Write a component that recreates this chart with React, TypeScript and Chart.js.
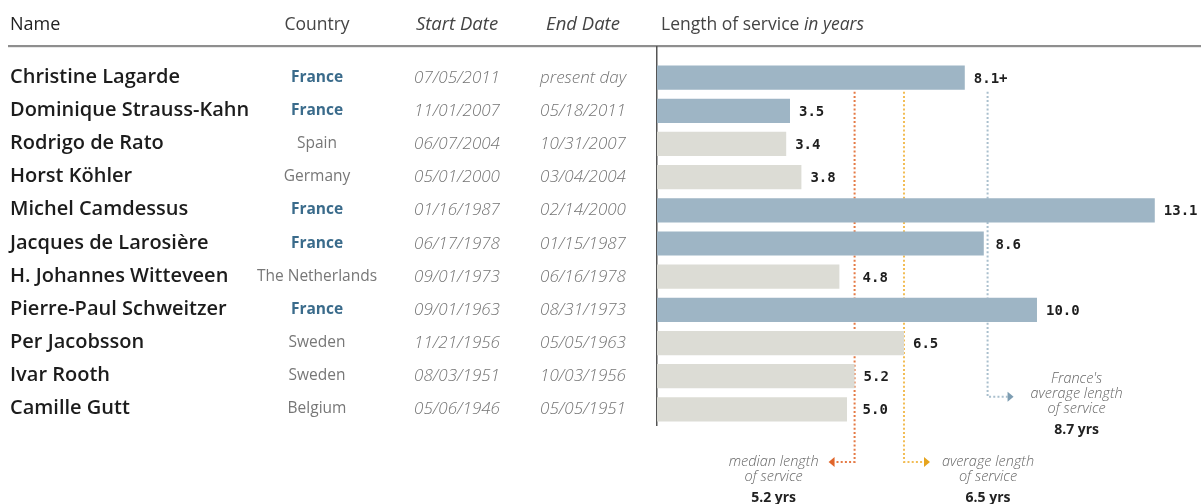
import React, { useEffect, useRef } from "react";
import { Chart, registerables } from "chart.js";

Chart.register(...registerables);

// ---------- data ----------
const names = [
  "Christine Lagarde",
  "Dominique Strauss-Kahn",
  "Rodrigo de Rato",
  "Horst Köhler",
  "Michel Camdessus",
  "Jacques de Larosière",
  "H. Johannes Witteveen",
  "Pierre-Paul Schweitzer",
  "Per Jacobsson",
  "Ivar Rooth",
  "Camille Gutt",
];
const countries = [
  "France",
  "France",
  "Spain",
  "Germany",
  "France",
  "France",
  "The Netherlands",
  "France",
  "Sweden",
  "Sweden",
  "Belgium",
];
const startDates = [
  "07/05/2011",
  "11/01/2007",
  "06/07/2004",
  "05/01/2000",
  "01/16/1987",
  "06/17/1978",
  "09/01/1973",
  "09/01/1963",
  "11/21/1956",
  "08/03/1951",
  "05/06/1946",
];
const endDates = [
  "present day",
  "05/18/2011",
  "10/31/2007",
  "03/04/2004",
  "02/14/2000",
  "01/15/1987",
  "06/16/1978",
  "08/31/1973",
  "05/05/1963",
  "10/03/1956",
  "05/05/1951",
];
const yearsOfService = [8.1, 3.5, 3.4, 3.8, 13.1, 8.6, 4.8, 10.0, 6.5, 5.2, 5.0];
const valueLabels = ["8.1+", "3.5", "3.4", "3.8", "13.1", "8.6", "4.8", "10.0", "6.5", "5.2", "5.0"];
const columnHeaders = ["Name", "Country", "Start Date", "End Date"];
const chartTitle = "Length of service";
const chartTitleItalic = "in years";
const medianYears = 5.2;
const averageYears = 6.5;
const franceAverageYears = 8.7;
const medianLabel = ["median length", "of service", "5.2 yrs"];
const averageLabel = ["average length", "of service", "6.5 yrs"];
const franceLabel = ["France's", "average length", "of service", "8.7 yrs"];
const axisMaxYears = 14.29;

// ---------- styles ----------
const FONT = '"Open Sans", "Noto Sans", sans-serif';
const BLUE_BAR = "#9eb5c5";
const GRAY_BAR = "#dcdcd5";
const COL_COUNTRY = 317;
const COL_START = 457;
const COL_END = 583;

const tablePlugin = {
  id: "tablePlugin",
  beforeDatasetsDraw(chart: any) {
    const ctx = chart.ctx as CanvasRenderingContext2D;
    const xs = chart.scales.x;
    const ys = chart.scales.y;
    const area = chart.chartArea;
    ctx.save();
    // header rule
    ctx.fillStyle = "#8e8e8e";
    ctx.fillRect(8, 45, chart.width - 8, 2.2);
    // vertical axis line
    ctx.strokeStyle = "#555";
    ctx.lineWidth = 1.5;
    ctx.beginPath();
    ctx.moveTo(area.left - 0.25, 46);
    ctx.lineTo(area.left - 0.25, area.bottom);
    ctx.stroke();

    const meta = chart.getDatasetMeta(0);
    const barHalf = meta.data[0].height / 2;
    const top = ys.getPixelForValue(0) + barHalf + 2;
    const bottomArrowY = area.bottom + 36;
    const franceArrowY = (ys.getPixelForValue(9) + ys.getPixelForValue(10)) / 2 + 4;

    const refs = [
      { v: medianYears, color: "#e57a45", head: "#e0652a", dir: -1, y: bottomArrowY },
      { v: averageYears, color: "#f2bd55", head: "#e6a41e", dir: 1, y: bottomArrowY },
      { v: franceAverageYears, color: "#a9bfcd", head: "#7d9db2", dir: 1, y: franceArrowY },
    ];
    refs.forEach((r) => {
      const xp = xs.getPixelForValue(r.v);
      ctx.strokeStyle = r.color;
      ctx.lineWidth = 2;
      ctx.setLineDash([2, 2.2]);
      ctx.beginPath();
      ctx.moveTo(xp, top);
      ctx.lineTo(xp, r.y);
      ctx.lineTo(xp + r.dir * 20, r.y);
      ctx.stroke();
      ctx.setLineDash([]);
      const tip = xp + r.dir * 26;
      ctx.fillStyle = r.head;
      ctx.beginPath();
      ctx.moveTo(tip, r.y);
      ctx.lineTo(tip - r.dir * 6, r.y - 5);
      ctx.lineTo(tip - r.dir * 6, r.y + 5);
      ctx.closePath();
      ctx.fill();
    });
    ctx.restore();
  },
  afterDatasetsDraw(chart: any) {
    const ctx = chart.ctx as CanvasRenderingContext2D;
    const xs = chart.scales.x;
    const ys = chart.scales.y;
    const area = chart.chartArea;
    ctx.save();
    ctx.textBaseline = "alphabetic";

    // headers
    const headY = 30;
    ctx.fillStyle = "#222";
    ctx.font = `18px ${FONT}`;
    ctx.textAlign = "left";
    ctx.fillText(columnHeaders[0], 10, headY);
    ctx.fillStyle = "#444";
    ctx.textAlign = "center";
    ctx.font = `17.5px ${FONT}`;
    ctx.fillText(columnHeaders[1], COL_COUNTRY, headY);
    ctx.font = `italic 18.5px ${FONT}`;
    ctx.fillText(columnHeaders[2], COL_START, headY);
    ctx.fillText(columnHeaders[3], COL_END, headY);
    ctx.textAlign = "left";
    ctx.font = `17.5px ${FONT}`;
    const tx = area.left + 4;
    const t1 = chartTitle + " ";
    ctx.fillText(t1, tx, headY);
    const w1 = ctx.measureText(t1).width;
    ctx.font = `italic 17.5px ${FONT}`;
    ctx.fillText(chartTitleItalic, tx + w1, headY);

    // rows
    const refXs = [medianYears, averageYears, franceAverageYears].map((v) => xs.getPixelForValue(v));
    names.forEach((name, i) => {
      const cy = ys.getPixelForValue(i);
      const by = cy + 4;
      ctx.textAlign = "left";
      ctx.fillStyle = "#1c1c1c";
      ctx.font = `600 20px ${FONT}`;
      ctx.fillText(name, 10, by + 1);

      ctx.textAlign = "center";
      if (countries[i] === "France") {
        ctx.fillStyle = "#3a6b8b";
        ctx.font = `bold 15.5px ${FONT}`;
      } else {
        ctx.fillStyle = "#777";
        ctx.font = `15.5px ${FONT}`;
      }
      ctx.fillText(countries[i], COL_COUNTRY, by);

      ctx.fillStyle = "#747474";
      ctx.font = `italic 300 17px ${FONT}`;
      ctx.fillText(startDates[i], COL_START, by + 1);
      ctx.fillText(endDates[i], COL_END, by + 1);

      // value label (pushed past a reference line that sits just after the bar)
      const end = xs.getPixelForValue(yearsOfService[i]);
      let lx = end + 9;
      refXs.forEach((rx) => {
        if (rx >= end - 2 && rx < end + 20) lx = Math.max(lx, rx + 8);
      });
      ctx.textAlign = "left";
      ctx.fillStyle = "#1e1e1e";
      ctx.font = `bold 14px "DejaVu Sans Mono", monospace`;
      ctx.fillText(valueLabels[i], lx, by + 1);
    });

    // annotations
    const drawNote = (lines: string[], cx: number, firstBase: number) => {
      ctx.textAlign = "center";
      lines.forEach((ln, k) => {
        const isVal = k === lines.length - 1;
        ctx.fillStyle = isVal ? "#222" : "#666";
        ctx.font = isVal ? `bold 14px ${FONT}` : `italic 300 14.5px ${FONT}`;
        const y = isVal ? firstBase + (k - 1) * 15 + 21 : firstBase + k * 15;
        ctx.fillText(ln, cx, y);
      });
    };
    const bottomArrowY = area.bottom + 36;
    const franceArrowY = (ys.getPixelForValue(9) + ys.getPixelForValue(10)) / 2 + 4;
    drawNote(medianLabel, xs.getPixelForValue(medianYears) - 81, bottomArrowY + 4);
    drawNote(averageLabel, xs.getPixelForValue(averageYears) + 84, bottomArrowY + 4);
    drawNote(franceLabel, xs.getPixelForValue(franceAverageYears) + 89, franceArrowY - 14);
    ctx.restore();
  },
};

export default function App() {
  const ref = useRef<HTMLCanvasElement | null>(null);
  useEffect(() => {
    if (!ref.current) return;
    const chart = new Chart(ref.current, {
      type: "bar",
      data: {
        labels: names,
        datasets: [
          {
            data: yearsOfService,
            backgroundColor: countries.map((c) => (c === "France" ? BLUE_BAR : GRAY_BAR)),
            borderWidth: 0,
            barPercentage: 0.73,
            categoryPercentage: 1,
          },
        ],
      },
      options: {
        indexAxis: "y",
        responsive: false,
        animation: false,
        layout: { padding: { left: 657, right: 1, top: 61, bottom: 78 } },
        scales: {
          x: { type: "linear", min: 0, max: axisMaxYears, display: false },
          y: { type: "category", display: false },
        },
        plugins: {
          legend: { display: false },
          tooltip: { enabled: false },
          title: { display: false },
        },
      },
      plugins: [tablePlugin],
    } as any);
    return () => chart.destroy();
  }, []);
  return (
    <div style={{ position: "fixed", left: 0, top: 0, width: 1201, height: 504, background: "#fff" }}>
      <canvas ref={ref} width={1201} height={504} style={{ display: "block", width: 1201, height: 504 }} />
    </div>
  );
}
